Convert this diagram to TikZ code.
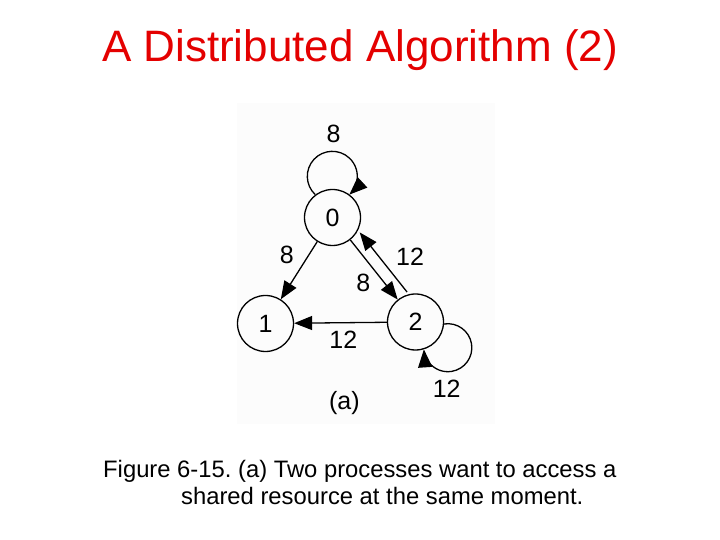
\documentclass[tikz,border=0pt]{standalone}
\usepackage{fontspec}
\setmainfont{Liberation Sans}
\usetikzlibrary{arrows.meta}
\definecolor{titlered}{RGB}{228,0,0}
\definecolor{boxbg}{RGB}{252,252,252}
\frenchspacing
\begin{document}
\begin{tikzpicture}[x=1pt,y=1pt,
  proc/.style={draw, circle, line width=1.3pt, minimum size=56pt, inner sep=0pt, font=\fontsize{25}{28}\selectfont},
  lbl/.style={inner sep=0pt, font=\fontsize{25}{28}\selectfont},
  arr/.style={line width=1.3pt, -{Triangle[length=18pt,width=14pt]}}]
\useasboundingbox (0,0) rectangle (720,540);
\fill[white] (0,0) rectangle (720,540);
\fill[boxbg] (237,116) rectangle (495,437);
% title
\node[anchor=base, text=titlered, inner sep=0pt, font=\fontsize{44}{50}\selectfont] (title) at (360,478) {A Distributed Algorithm (2)};
% nodes
\node[proc] (n0) at (332.5,322.5) {0};
\node[proc] (n1) at (265.5,216.5) {1};
\node[proc] (n2) at (415.5,218) {2};
% edges
\draw[arr] (n0) -- (n1);
\draw[arr] (n0) -- (n2);
\draw[arr, transform canvas={shift={(9.4pt,7.5pt)}}] (n2) -- (n0);
\draw[arr] (n2) -- (n1);
% self loops
\draw[arr] (n0.127.6) arc[start angle=227, end angle=-47, radius=25];
\draw[arr] (n2.-4) arc[start angle=99, end angle=-176, radius=24];
% labels
\node[lbl] (l0) at (333.5,406) {8};
\node[lbl] (l01) at (286.7,285) {8};
\node[lbl] (l02) at (363.3,256.7) {8};
\node[lbl] (l20) at (410,283.3) {12};
\node[lbl] (l21) at (343.3,200) {12};
\node[lbl] (l22) at (446.7,151.7) {12};
\node[lbl] (sub) at (344.3,136.7) {(a)};
% caption
\node[anchor=base west, inner sep=0pt, font=\fontsize{23.8}{28}\selectfont] (cap1) at (103,62) {Figure 6-15. (a) Two processes want to access a};
\node[anchor=base west, inner sep=0pt, font=\fontsize{23.8}{28}\selectfont] (cap2) at (181,35) {shared resource at the same moment.};
\end{tikzpicture}
\end{document}
